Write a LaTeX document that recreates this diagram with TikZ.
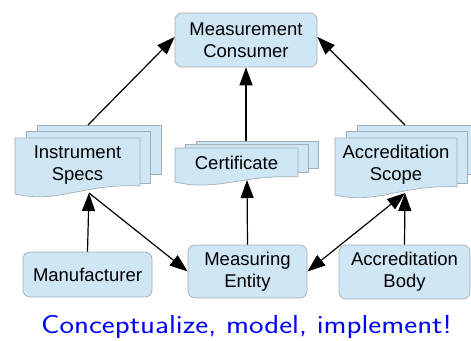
\documentclass[tikz,border=0pt]{standalone}
\usepackage{fontspec}
\setmainfont{Liberation Sans}
\usetikzlibrary{arrows.meta}
\definecolor{boxfill}{HTML}{CFE7F5}
\definecolor{boxline}{HTML}{A3AFB6}
\newcommand\nodefont{\fontsize{18.5}{22}\selectfont}
\begin{document}
\begin{tikzpicture}[x=1pt,y=-1pt,
  sheet/.style={fill=boxfill,draw=boxline,line width=0.7pt},
  box/.style={sheet,rounded corners=7pt,inner sep=0pt,align=center,font=\nodefont},
  lbl/.style={inner sep=0pt,align=center,font=\nodefont},
  arr/.style={line width=1.2pt,-{Triangle[length=18pt,width=13pt]}},
  darr/.style={line width=1.2pt,{Triangle[length=18pt,width=13pt]}-{Triangle[length=18pt,width=13pt]}},
  ]
\useasboundingbox (0,0) rectangle (471,340);

% rounded boxes
\node[box, minimum width=142pt, minimum height=54pt] (mc) at (246,40) {Measurement\\Consumer};
\node[box, minimum width=129pt, minimum height=45pt] (mf) at (87.5,274.5) {Manufacturer};
\node[box, minimum width=119pt, minimum height=53pt] (me) at (247.5,271.5) {Measuring\\Entity};
\node[box, minimum width=131pt, minimum height=54pt] (ab) at (404.5,272) {Accreditation\\Body};

% Instrument Specs (multiple documents)
\path[sheet] (37,125) rectangle (161,174);
\path[sheet] (26,131) rectangle (150,183);
\path[sheet] (15,138) -- (140,138) -- (140,186) .. controls (84,183) and (59,204) .. (15,194) -- cycle;
\node[lbl] (is) at (77.5,165) {Instrument\\Specs};
\coordinate (isTop) at (88,125);
\coordinate (isBot) at (89,193);

% Certificate
\path[sheet] (196,141) rectangle (318,168);
\path[sheet] (185,144) rectangle (308,172);
\path[sheet] (175,148) -- (298,148) -- (298,177) .. controls (243,174) and (218,192) .. (175,182) -- cycle;
\node[lbl] (cert) at (236.5,162.5) {Certificate};
\coordinate (certTop) at (246,141);
\coordinate (certBot) at (247,180);

% Accreditation Scope
\path[sheet] (357,125) rectangle (480,174);
\path[sheet] (346,131) rectangle (467,183);
\path[sheet] (335,138) -- (457,138) -- (457,187) .. controls (402,184) and (378,205) .. (335,195) -- cycle;
\node[lbl] (as) at (396,165) {Accreditation\\Scope};
\coordinate (asTop) at (405,125);
\coordinate (asBot) at (405,193);

% connectors
\draw[arr] (isTop) -- ([yshift=3pt]mc.west);
\draw[arr] (certTop) -- (mc.south);
\draw[arr] (asTop) -- ([yshift=3pt]mc.east);
\draw[arr] (mf.north) -- (isBot);
\draw[arr] (isBot) -- (me.west);
\draw[arr] (me.north) -- (certBot);
\draw[darr] (me.east) -- (asBot);
\draw[arr] (ab.north) -- (asBot);

% caption
\node[anchor=base, text=blue, inner sep=0pt] (tag) at (246.5,333)
  {\scalebox{1.187}[1]{\fontsize{26}{30}\selectfont\sffamily Conceptualize, model, implement!}};
\end{tikzpicture}
\end{document}
